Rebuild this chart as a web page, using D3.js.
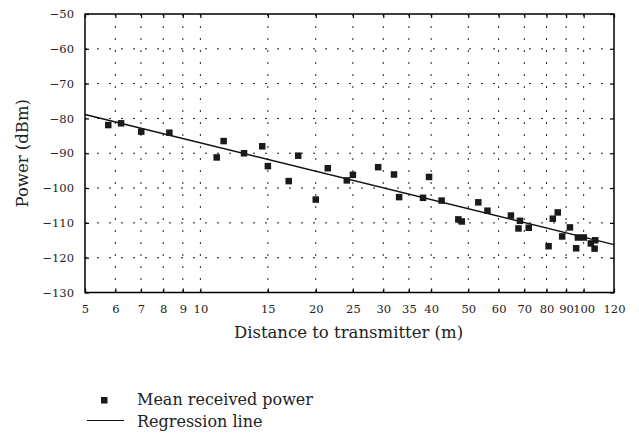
<!DOCTYPE html>
<html>
<head>
<meta charset="utf-8">
<script src="https://cdn.jsdelivr.net/npm/d3@7"></script>
<style>
  body { margin: 0; background: #fff; }
  svg { display: block; font-family: "DejaVu Serif", "Liberation Serif", serif; }
</style>
</head>
<body>
<svg id="chart" width="639" height="438"></svg>
<script>
// distance (m) of each measurement
const distances = [5.75, 6.21, 7.01, 8.3, 11.03, 11.5, 13.0, 14.5, 15.0, 17.0, 18.0, 20.0,
  21.5, 24.1, 25.0, 29.1, 32.0, 33.0, 38.1, 39.5, 42.6, 47.1, 48.1, 53.1, 56.1, 64.6,
  67.6, 68.2, 71.9, 81.0, 83.1, 85.6, 87.9, 92.1, 95.6, 96.6, 100.1, 104.4, 106.8, 107.2]
// mean received power (dBm)
const powers = [-81.9, -81.4, -83.8, -84.1, -91.2, -86.5, -90.0, -88.0, -93.7, -98.0, -90.7, -103.3,
  -94.3, -97.8, -96.2, -94.0, -96.1, -102.6, -102.8, -96.8, -103.6, -109.0, -109.6, -104.1, -106.5, -107.9,
  -111.6, -109.4, -111.4, -116.7, -108.8, -107.0, -113.9, -111.3, -117.3, -114.2, -114.2, -115.9, -117.4, -115.0]

// regression: P = a + b * log10(d)
const regA = -59.9
const regB = -27.1

const xTicks = [5, 6, 7, 8, 9, 10, 15, 20, 25, 30, 35, 40, 50, 60, 70, 80, 90, 100, 120]
const yTicks = [-130, -120, -110, -100, -90, -80, -70, -60, -50]
const xDomain = [5, 120]
const yDomain = [-130, -50]

const margin = {left: 85, right: 25, top: 14, bottom: 145.5}
const width = 639 - margin.left - margin.right
const height = 438 - margin.top - margin.bottom

const svg = d3.select('#chart')
const g = svg.append('g')
  .attr('transform', `translate(${margin.left},${margin.top})`)

const x = d3.scaleLog().domain(xDomain).range([0, width])
const y = d3.scaleLinear().domain(yDomain).range([height, 0])

// grid
const grid = g.append('g').attr('class', 'grid')
grid.selectAll('line.hgrid')
  .data(yTicks.slice(1, -1))
  .enter().append('line')
  .attr('class', 'hgrid')
  .attr('x1', 0).attr('x2', width)
  .attr('y1', d => y(d)).attr('y2', d => y(d))
  .attr('stroke', '#222')
  .attr('stroke-width', 1)
  .attr('stroke-dasharray', '2,10')

grid.selectAll('line.vgrid')
  .data(xTicks.slice(1, -1))
  .enter().append('line')
  .attr('class', 'vgrid')
  .attr('x1', d => x(d)).attr('x2', d => x(d))
  .attr('y1', 0).attr('y2', height)
  .attr('stroke', '#222')
  .attr('stroke-width', 1)
  .attr('stroke-dasharray', '2,10')

// axes, ticks inside
const tickLen = 4
g.append('g')
  .attr('transform', `translate(0,${height})`)
  .call(d3.axisBottom(x).tickValues(xTicks).tickFormat(d3.format('d'))
    .tickSizeInner(-tickLen).tickSizeOuter(0).tickPadding(12))
g.append('g')
  .call(d3.axisLeft(y).tickValues(yTicks).tickFormat(d => d3.format('d')(d).replace('-', '\u2212'))
    .tickSizeInner(-tickLen).tickSizeOuter(0).tickPadding(11))
g.append('g')
  .call(d3.axisTop(x).tickValues(xTicks).tickFormat('')
    .tickSizeInner(-tickLen).tickSizeOuter(0))
g.append('g')
  .attr('transform', `translate(${width},0)`)
  .call(d3.axisRight(y).tickValues(yTicks).tickFormat('')
    .tickSizeInner(-tickLen).tickSizeOuter(0))

g.selectAll('.domain').remove()
g.selectAll('.tick line').attr('stroke', '#000').attr('stroke-width', 1.2)
g.selectAll('.tick text')
  .attr('font-family', '"DejaVu Serif", serif')
  .attr('font-size', 11.5)
  .attr('fill', '#222')

// frame
g.append('rect')
  .attr('x', 0).attr('y', 0)
  .attr('width', width).attr('height', height)
  .attr('fill', 'none')
  .attr('stroke', '#000')
  .attr('stroke-width', 1.5)

// regression line
const line = d3.line()
  .x(d => x(d))
  .y(d => y(regA + regB * Math.log10(d)))
g.append('path')
  .datum(xDomain)
  .attr('d', line)
  .attr('fill', 'none')
  .attr('stroke', '#111')
  .attr('stroke-width', 1.5)

// points
const sq = 6.5
g.selectAll('rect.pt')
  .data(distances.map((d, i) => ({d: d, p: powers[i]})))
  .enter().append('rect')
  .attr('class', 'pt')
  .attr('x', d => x(d.d) - sq / 2)
  .attr('y', d => y(d.p) - sq / 2)
  .attr('width', sq).attr('height', sq)
  .attr('fill', '#1a1a1a')

// axis titles
svg.append('text')
  .attr('x', margin.left + width / 2 - 1)
  .attr('y', 338)
  .attr('text-anchor', 'middle')
  .attr('font-size', 16.5)
  .attr('fill', '#222')
  .text('Distance to transmitter (m)')

svg.append('text')
  .attr('transform', `translate(28,${margin.top + height / 2}) rotate(-90)`)
  .attr('text-anchor', 'middle')
  .attr('font-size', 16.5)
  .attr('fill', '#222')
  .text('Power (dBm)')

// legend
const legend = svg.append('g').attr('class', 'legend')
legend.append('rect')
  .attr('x', 101).attr('y', 397)
  .attr('width', sq).attr('height', sq)
  .attr('fill', '#1a1a1a')
legend.append('text')
  .attr('x', 137).attr('y', 405)
  .attr('font-size', 16)
  .attr('fill', '#222')
  .text('Mean received power')
legend.append('line')
  .attr('x1', 87).attr('x2', 124)
  .attr('y1', 420.5).attr('y2', 420.5)
  .attr('stroke', '#111')
  .attr('stroke-width', 1.2)
legend.append('text')
  .attr('x', 137).attr('y', 427)
  .attr('font-size', 16)
  .attr('fill', '#222')
  .text('Regression line')
</script>
</body>
</html>
